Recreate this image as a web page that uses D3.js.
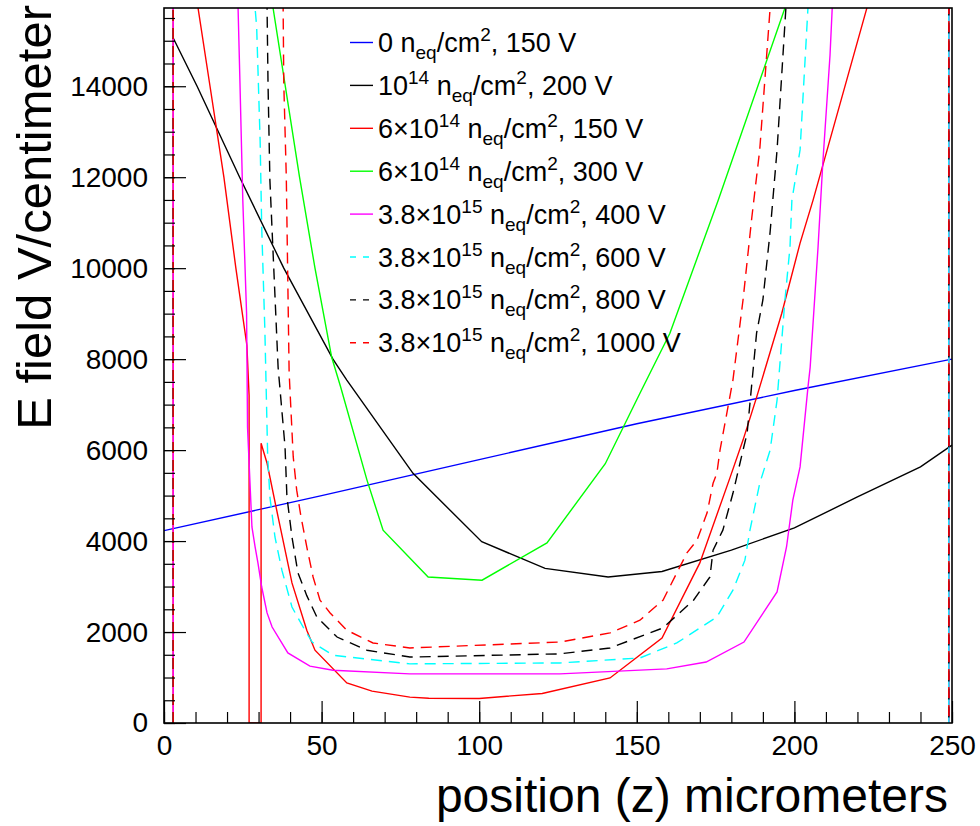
<!DOCTYPE html>
<html>
<head>
<meta charset="utf-8">
<script src="https://cdn.jsdelivr.net/npm/d3@7"></script>
<style>
  body { margin: 0; background: #fff; }
  svg { font-family: "Liberation Sans", Arial, Helvetica, sans-serif; }
</style>
</head>
<body>
<div id="wrapper"></div>
<script>
// E field vs depth (z). Values above the frame (> 15720) are off-scale.
const unirr150V = [[0, 4230], [50, 5000], [100, 5790], [150, 6580], [200, 7310], [250, 8000]]

const fl1e14_200V = [[3, 15050], [10.5, 14000], [24, 12000], [38, 10000], [53.6, 8000], [58, 7540],
  [79, 5490], [100.8, 3985], [120.9, 3400], [140.9, 3210], [158, 3330], [180, 3800],
  [200, 4290], [220, 4970], [240, 5630], [250, 6110]]

const fl6e14_150V = [[2.9, 0], [2.9, 20000], [9.5, 20000], [10.8, 15720], [14.6, 14000], [19, 12000],
  [22.8, 10000], [26.3, 8300], [27, 7200], [27, 0], [30.8, 0], [30.8, 6150], [32.7, 5710],
  [36.2, 4530], [40.6, 3080], [45.3, 2040], [47.9, 1600], [58, 880], [66, 700], [78, 570],
  [84, 545], [100, 540], [120, 650], [141.5, 990], [158, 1870], [170, 3520], [179.6, 5400],
  [183.7, 6220], [188, 7160], [196, 9010], [201.8, 10550], [205.9, 11490], [223, 15720],
  [228, 20000], [249, 20000], [249, 0]]

const fl6e14_300V = [[31, 17300], [34.6, 15720], [43, 12000], [47.9, 10000], [53.2, 8040], [56, 7400],
  [64.4, 5340], [69.5, 4240], [83.8, 3210], [100.9, 3140], [121.5, 3960], [140, 5700],
  [151, 7250], [160.5, 8570], [175.8, 11490], [197, 15720], [200, 16300]]

const fl38e15_400V = [[2.9, 0], [2.9, 20000], [23, 20000], [23.5, 15720], [24.1, 14070], [25, 11500],
  [26.2, 9000], [26.5, 6500], [27.9, 4310], [28.9, 3870], [29.8, 3520], [31, 2990], [32.7, 2420],
  [34.3, 2110], [39.3, 1540], [46.3, 1250], [53.6, 1160], [78, 1080], [125.6, 1080],
  [159.5, 1190], [172, 1340], [184, 1780], [194.5, 2880], [197.5, 3870], [199.5, 4900],
  [201.8, 5630], [204.3, 7380], [205, 7820], [207.5, 10460], [209, 12300], [211.3, 14680],
  [212, 15720], [213, 20000], [249, 20000], [249, 0]]

const fl38e15_600V = [[2.9, 0], [2.9, 20000], [28.5, 20000], [28.9, 15720], [29.4, 15300], [30.5, 12800],
  [31, 10900], [32, 8640], [32.9, 5850], [33.6, 4970], [35.2, 4090], [37.4, 3360], [40.6, 2550],
  [44.7, 2040], [47, 1780], [53.6, 1490], [78, 1300], [125.6, 1320], [151, 1430],
  [162.7, 1760], [175.4, 2330], [180.5, 2920], [184.3, 3580], [185.9, 4240], [189, 5270],
  [192.3, 6000], [194.5, 7100], [197, 9300], [198.6, 10460], [199.2, 11490], [201.8, 12600],
  [204.3, 15720], [205, 20000], [249, 20000], [249, 0]]

const fl38e15_800V = [[2.9, 0], [2.9, 20000], [32.4, 20000], [32.7, 15720], [33, 14070], [33.6, 11930],
  [36.2, 7820], [38.4, 6070], [39, 4970], [40.6, 4090], [42.5, 3300], [45.3, 2800], [48.5, 2330],
  [54.9, 1890], [64.4, 1600], [78, 1450], [125.6, 1520], [141.5, 1650], [158.3, 2090],
  [168, 2700], [173.2, 3210], [174.2, 3800], [177.3, 4240], [180.5, 5050], [183.7, 6000],
  [185, 6370], [188, 8570], [190, 9300], [192.3, 10800], [194.5, 12600], [197.3, 15720],
  [198, 20000], [249, 20000], [249, 0]]

const fl38e15_1000V = [[2.9, 0], [2.9, 20000], [37.5, 20000], [37.8, 15720], [38, 14070], [38.8, 12000],
  [39.7, 7700], [41, 5850], [42.1, 5120], [43.4, 4560], [45.3, 3870], [47.3, 3210], [49.5, 2700],
  [52.7, 2420], [58, 2040], [66.3, 1760], [78, 1650], [125.6, 1780], [141.5, 1980],
  [151, 2260], [158.3, 2700], [162.7, 3300], [165.9, 3740], [169.1, 4020], [172.3, 4620],
  [174.2, 5270], [175.4, 5490], [176.4, 6000], [180.5, 7540], [183.7, 9300], [186.5, 11120],
  [189, 12600], [192.3, 15720], [193, 20000], [249, 20000], [249, 0]]

const seriesData = [unirr150V, fl1e14_200V, fl6e14_150V, fl6e14_300V,
  fl38e15_400V, fl38e15_600V, fl38e15_800V, fl38e15_1000V]
const seriesColors = ["#0000ff", "#000000", "#ff0000", "#00ff00",
  "#ff00ff", "#00ffff", "#000000", "#ff0000"]
const seriesDashed = [false, false, false, false, false, true, true, true]
const legendLabels = [
  "0 n_{eq}/cm^{2}, 150 V",
  "10^{14} n_{eq}/cm^{2}, 200 V",
  "6×10^{14} n_{eq}/cm^{2}, 150 V",
  "6×10^{14} n_{eq}/cm^{2}, 300 V",
  "3.8×10^{15} n_{eq}/cm^{2}, 400 V",
  "3.8×10^{15} n_{eq}/cm^{2}, 600 V",
  "3.8×10^{15} n_{eq}/cm^{2}, 800 V",
  "3.8×10^{15} n_{eq}/cm^{2}, 1000 V"
]

const xDomain = [0, 250]
const yDomain = [0, 15720]
const xMajorTicks = [0, 50, 100, 150, 200, 250]
const yMajorTicks = [0, 2000, 4000, 6000, 8000, 10000, 12000, 14000]
const xTitle = "position (z) micrometers"
const yTitle = "E field V/centimeter"

let dimensions = {
  width: 980,
  height: 826,
  margin: { top: 8, right: 28, bottom: 103, left: 164 }
}
dimensions.boundedWidth = dimensions.width - dimensions.margin.left - dimensions.margin.right
dimensions.boundedHeight = dimensions.height - dimensions.margin.top - dimensions.margin.bottom

const wrapper = d3.select("#wrapper")
  .append("svg")
  .attr("width", dimensions.width)
  .attr("height", dimensions.height)

const bounds = wrapper.append("g")
  .attr("transform", `translate(${dimensions.margin.left},${dimensions.margin.top})`)

const xScale = d3.scaleLinear().domain(xDomain).range([0, dimensions.boundedWidth])
const yScale = d3.scaleLinear().domain(yDomain).range([dimensions.boundedHeight, 0])

// clip the off-scale parts of the curves
bounds.append("clipPath").attr("id", "frame-clip")
  .append("rect")
  .attr("width", dimensions.boundedWidth)
  .attr("height", dimensions.boundedHeight)

const lineGenerator = d3.line()
  .x(d => xScale(d[0]))
  .y(d => yScale(d[1]))

bounds.append("g")
  .attr("clip-path", "url(#frame-clip)")
  .selectAll("path")
  .data(seriesData)
  .join("path")
  .attr("d", lineGenerator)
  .attr("fill", "none")
  .attr("stroke", (d, i) => seriesColors[i])
  .attr("stroke-width", 1.4)
  .attr("stroke-dasharray", (d, i) => seriesDashed[i] ? "11,7" : null)

// axes: ROOT style, ticks pointing inside the frame
const xMinor = d3.range(xDomain[0], xDomain[1] + 1, 10)
const yMinor = d3.range(0, yDomain[1], 500)

const xAxis = bounds.append("g")
  .attr("transform", `translate(0,${dimensions.boundedHeight})`)
xAxis.append("g")
  .call(d3.axisBottom(xScale).tickValues(xMinor).tickSize(-11).tickFormat(""))
xAxis.append("g")
  .call(d3.axisBottom(xScale).tickValues(xMajorTicks).tickSize(-22).tickPadding(12)
    .tickFormat(d3.format("d")))

const yAxis = bounds.append("g")
yAxis.append("g")
  .call(d3.axisLeft(yScale).tickValues(yMinor).tickSize(-11).tickFormat(""))
yAxis.append("g")
  .call(d3.axisLeft(yScale).tickValues(yMajorTicks).tickSize(-22).tickPadding(16)
    .tickFormat(d3.format("d")))

bounds.selectAll(".domain").remove()
bounds.selectAll(".tick line").attr("stroke", "#000").attr("stroke-width", 1.2)
bounds.selectAll(".tick text")
  .attr("fill", "#000")
  .style("font-size", "28px")
  .style("font-family", "'Liberation Sans', Arial, sans-serif")

bounds.append("rect")
  .attr("width", dimensions.boundedWidth)
  .attr("height", dimensions.boundedHeight)
  .attr("fill", "none")
  .attr("stroke", "#000")
  .attr("stroke-width", 1.6)

wrapper.append("text")
  .attr("x", dimensions.margin.left + xScale(xDomain[1]) - 4)
  .attr("y", 812)
  .attr("text-anchor", "end")
  .style("font-size", "48px")
  .text(xTitle)

wrapper.append("text")
  .attr("transform", "translate(51,5) rotate(-90)")
  .attr("text-anchor", "end")
  .style("font-size", "49px")
  .text(yTitle)

// legend
const legendX = 350
const legendBaseline = 52
const legendRowHeight = 42.9

const legend = wrapper.append("g")
const rows = legend.selectAll("g")
  .data(legendLabels)
  .join("g")
  .attr("transform", (d, i) => `translate(${legendX},${legendBaseline + i * legendRowHeight})`)

rows.append("line")
  .attr("x1", 0).attr("x2", 23)
  .attr("y1", -9.5).attr("y2", -9.5)
  .attr("stroke", (d, i) => seriesColors[i])
  .attr("stroke-width", 1.4)
  .attr("stroke-dasharray", (d, i) => seriesDashed[i] ? "6,7" : null)

// tiny TLatex-like parser for _{} and ^{}
const parseLabel = label => label.split(/(_\{[^}]*\}|\^\{[^}]*\})/)
  .filter(s => s.length)
  .map(s => {
    if (s.startsWith("_{")) return { text: s.slice(2, -1), shift: 7, small: true }
    if (s.startsWith("^{")) return { text: s.slice(2, -1), shift: -11, small: true }
    return { text: s, shift: 0, small: false }
  })

rows.append("text")
  .attr("x", 28)
  .style("font-size", "27px")
  .each(function (label) {
    let current = 0
    d3.select(this).selectAll("tspan")
      .data(parseLabel(label))
      .join("tspan")
      .attr("dy", d => { const dy = d.shift - current; current = d.shift; return dy })
      .style("font-size", d => d.small ? "19px" : null)
      .text(d => d.text)
  })
</script>
</body>
</html>
